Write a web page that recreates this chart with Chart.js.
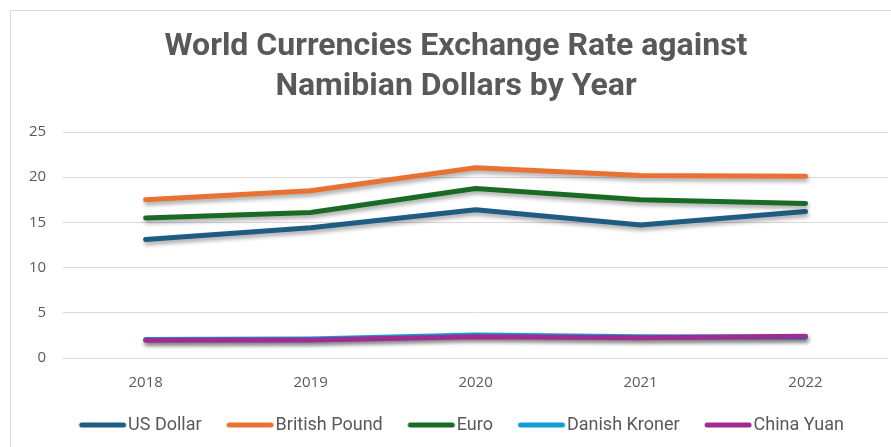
<!DOCTYPE html>
<html>
<head>
<meta charset="utf-8">
<script src="https://cdn.jsdelivr.net/npm/chart.js@4"></script>
<style>
  body { margin: 0; background: #fff; }
  #wrap { position: relative; width: 891px; height: 447px; }
  #frame { position: absolute; left: 10px; top: 10px; width: 900px; height: 460px; border: 1px solid #d9d9d9; box-sizing: border-box; }
  canvas { position: absolute; left: 0; top: 0; }
</style>
</head>
<body>
<div id="wrap">
  <div id="frame"></div>
  <canvas id="graphique" width="891" height="447"></canvas>
</div>
<script>
// ANNEES (AXE X)
const years = ['2018', '2019', '2020', '2021', '2022'];

// TAUX DE CHANGE PAR DEVISE
const usDollar = [13.1, 14.4, 16.4, 14.7, 16.2];
const britishPound = [17.5, 18.5, 21.05, 20.2, 20.1];
const euro = [15.5, 16.1, 18.75, 17.5, 17.1];
const danishKroner = [2.05, 2.1, 2.55, 2.35, 2.3];
const chinaYuan = [1.95, 2.0, 2.35, 2.25, 2.4];

const yTicks = [0, 5, 10, 15, 20, 25];

const textColor = '#595959';

function serie(label, data, color, order) {
    return {
        label: label,
        data: data,
        order: order, // la derniere serie passe au-dessus, comme dans Excel
        borderColor: color,
        backgroundColor: color,
        borderWidth: 5,
        borderCapStyle: 'round',
        borderJoinStyle: 'round',
        pointRadius: 0,
        pointHoverRadius: 0,
        tension: 0,
    };
}

// trait de legende : decale a droite pour coller au texte
function swatch(color) {
    const c = document.createElement('canvas');
    c.width = 70;
    c.height = 10;
    const g = c.getContext('2d');
    g.strokeStyle = color;
    g.lineWidth = 5;
    g.lineCap = 'round';
    g.beginPath();
    g.moveTo(23, 5);
    g.lineTo(65, 5);
    g.stroke();
    return c;
}

// petite ombre sous les lignes
const shadowPlugin = {
    id: 'shadow',
    beforeDatasetsDraw(chart) {
        const ctx = chart.ctx;
        ctx.save();
        ctx.shadowColor = 'rgba(0,0,0,0.35)';
        ctx.shadowBlur = 4;
        ctx.shadowOffsetX = 1;
        ctx.shadowOffsetY = 3;
    },
    afterDatasetsDraw(chart) {
        chart.ctx.restore();
    }
};

const graph = document.getElementById('graphique').getContext('2d');

new Chart(graph, {
    type: 'line',
    data: {
        labels: years,
        datasets: [
            serie('US Dollar', usDollar, '#1F5C82', 5),
            serie('British Pound', britishPound, '#E97132', 4),
            serie('Euro', euro, '#196B24', 3),
            serie('Danish Kroner', danishKroner, '#0F9ED5', 2),
            serie('China Yuan', chinaYuan, '#A02B93', 1),
        ]
    },
    plugins: [shadowPlugin],
    options: {
        responsive: false,
        animation: false,
        layout: {
            padding: { left: 24, right: 3, top: 27, bottom: 3 }
        },
        plugins: {
            title: {
                display: true,
                text: ['World Currencies Exchange Rate against', 'Namibian Dollars by Year'],
                color: textColor,
                font: { family: 'Roboto', size: 32, weight: 'bold', lineHeight: 40 / 32 },
                padding: { top: 0, bottom: 25 },
            },
            legend: {
                position: 'bottom',
                labels: {
                    color: textColor,
                    font: { family: 'Roboto', size: 18 },
                    usePointStyle: true,
                    pointStyleWidth: 51,
                    boxHeight: 6,
                    padding: 14,
                    sort: (a, b) => a.datasetIndex - b.datasetIndex,
                    generateLabels(chart) {
                        const items = Chart.defaults.plugins.legend.labels.generateLabels(chart);
                        items.forEach(it => { it.pointStyle = swatch(it.strokeStyle); });
                        return items;
                    },
                },
            },
            tooltip: { enabled: false },
        },
        scales: {
            x: {
                offset: true,
                grid: { display: false, drawTicks: false },
                border: { display: false },
                ticks: {
                    color: textColor,
                    font: { family: 'Open Sans', size: 15 },
                    padding: 16,
                },
                afterFit(scale) {
                    scale.height = 44;
                },
            },
            y: {
                min: 0,
                max: 25,
                afterBuildTicks(axis) {
                    axis.ticks = yTicks.map(v => ({ value: v }));
                },
                afterFit(scale) {
                    scale.width -= 12;
                },
                grid: { color: '#d9d9d9', drawTicks: false },
                border: { display: false },
                ticks: {
                    color: textColor,
                    font: { family: 'Open Sans', size: 15 },
                    padding: 17,
                },
            },
        },
    },
});
</script>
</body>
</html>
